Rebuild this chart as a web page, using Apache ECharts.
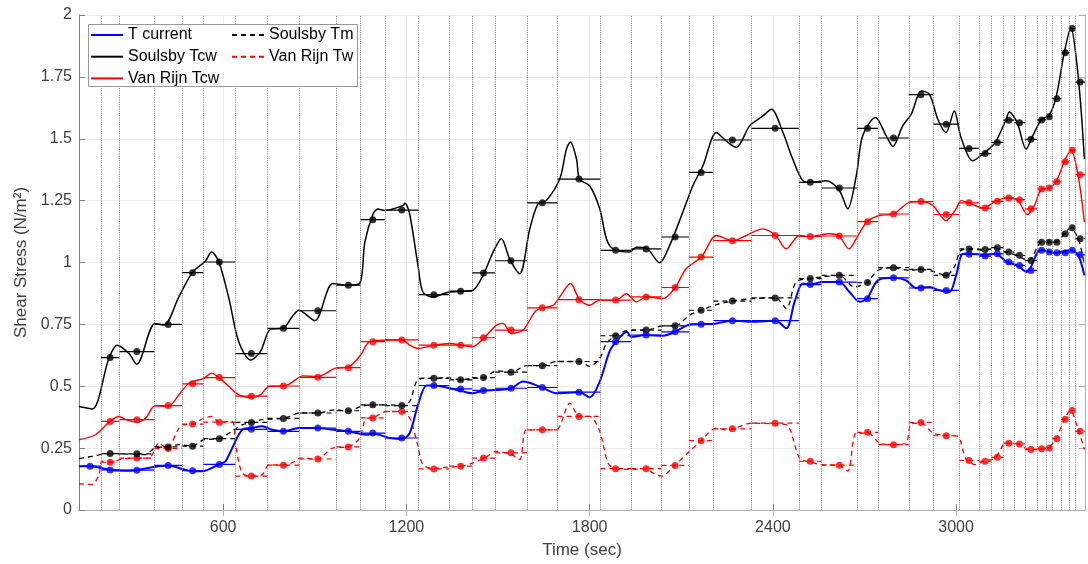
<!DOCTYPE html>
<html lang="en">
<head>
	<meta charset="UTF-8">
	<title>Shear Stress</title>
	<style>
	body, div {
		margin: 0;
		padding: 0;
	}
	#echart {
		width: 1088px;
		height: 564px;
	}
	</style>
</head>
<body>
	<div id="echart"></div>

	<script src="https://cdn.jsdelivr.net/npm/echarts@6/dist/echarts.min.js"></script>

	<script>
// burst interval edges (sec)
var boundaries = [128,200,260,375,465,535,640,745,850,970,1050,1130,1240,1340,1415,1490,1595,1695,1835,1935,2035,2125,2205,2330,2485,2560,2675,2745,2845,2925,3010,3075,3115,3155,3190,3225,3265,3295,3315,3345,3370,3390,3422];
var xTicks = [600, 1200, 1800, 2400, 3000];

// mean value for each interval
var currentStep = [0.177,0.162,0.161,0.180,0.159,0.184,0.326,0.318,0.331,0.318,0.311,0.291,0.503,0.489,0.483,0.492,0.495,0.476,0.680,0.707,0.720,0.751,0.765,0.765,0.911,0.921,0.854,0.938,0.897,0.887,1.033,1.026,1.035,1.002,0.988,0.968,1.049,1.042,1.039,1.039,1.049,1.031];
var soulsbyTcwStep = [null,0.616,0.640,0.750,0.959,1.002,0.632,0.734,0.805,0.908,1.173,1.212,0.870,0.884,0.958,1.007,1.241,1.337,1.049,1.055,1.103,1.364,1.495,1.542,1.324,1.301,1.542,1.503,1.678,1.559,1.461,1.440,1.485,1.575,1.565,1.498,1.576,1.589,1.662,1.847,1.945,1.729];
var vanRijnTcwStep = [null,0.358,0.365,0.422,0.510,0.535,0.460,0.501,0.536,0.575,0.680,0.687,0.666,0.666,0.696,0.727,0.817,0.850,0.848,0.861,0.899,1.022,1.088,1.109,1.105,1.107,1.165,1.196,1.246,1.194,1.241,1.220,1.247,1.261,1.254,1.217,1.297,1.301,1.326,1.407,1.454,1.355];
var soulsbyTmStep = [null,0.228,0.227,0.255,0.258,0.288,0.354,0.370,0.392,0.401,0.425,0.422,0.532,0.526,0.535,0.557,0.583,0.600,0.704,0.727,0.744,0.807,0.844,0.857,0.935,0.948,0.919,0.979,0.972,0.948,1.055,1.053,1.060,1.042,1.029,1.008,1.082,1.082,1.082,1.116,1.140,1.096];
var vanRijnTwStep = [null,0.193,0.210,0.248,0.347,0.355,0.137,0.181,0.206,0.255,0.372,0.398,0.166,0.177,0.210,0.231,0.324,0.378,0.167,0.167,0.180,0.280,0.328,0.351,0.197,0.181,0.314,0.264,0.354,0.300,0.200,0.197,0.213,0.270,0.267,0.244,0.247,0.251,0.288,0.367,0.402,0.318];

// time series [sec, N/m2]
var currentCurve = [[128,0.177],[166,0.177],[229,0.162],[270,0.159],[317,0.161],[368,0.173],[419,0.18],[455,0.17],[499,0.157],[531,0.157],[586,0.184],[608,0.197],[662,0.324],[692,0.331],[728,0.338],[760,0.324],[796,0.318],[848,0.331],[908,0.331],[960,0.324],[1009,0.318],[1069,0.304],[1091,0.308],[1146,0.291],[1186,0.287],[1211,0.311],[1238,0.425],[1266,0.503],[1290,0.503],[1331,0.495],[1380,0.481],[1416,0.472],[1455,0.483],[1495,0.485],[1544,0.492],[1582,0.519],[1644,0.495],[1691,0.472],[1767,0.476],[1800,0.455],[1833,0.519],[1865,0.64],[1887,0.68],[1922,0.72],[1936,0.70],[1986,0.707],[2040,0.704],[2080,0.72],[2122,0.747],[2166,0.751],[2215,0.754],[2269,0.765],[2334,0.761],[2409,0.765],[2444,0.734],[2471,0.841],[2498,0.915],[2522,0.911],[2563,0.921],[2617,0.921],[2651,0.881],[2684,0.841],[2708,0.854],[2744,0.928],[2795,0.938],[2836,0.928],[2869,0.897],[2913,0.901],[2945,0.888],[2978,0.881],[3000,0.948],[3022,1.035],[3044,1.035],[3090,1.031],[3128,1.035],[3166,1.002],[3200,0.988],[3231,0.962],[3267,1.042],[3280,1.049],[3327,1.039],[3376,1.049],[3399,1.031],[3420,0.948]];
var soulsbyTcwCurve = [[128,0.418],[171,0.408],[226,0.613],[253,0.666],[291,0.633],[317,0.589],[377,0.754],[406,0.747],[455,0.861],[499,0.959],[542,1.006],[562,1.042],[586,1.002],[619,0.854],[651,0.68],[690,0.606],[722,0.64],[755,0.73],[796,0.734],[826,0.781],[848,0.807],[900,0.765],[959,0.915],[1008,0.908],[1047,0.915],[1064,1.082],[1091,1.196],[1107,1.216],[1129,1.21],[1189,1.23],[1195,1.239],[1210,1.2],[1238,0.988],[1254,0.881],[1287,0.861],[1331,0.878],[1385,0.884],[1418,0.888],[1451,0.948],[1484,1.042],[1511,1.096],[1538,1.015],[1571,0.955],[1604,1.136],[1631,1.237],[1658,1.25],[1702,1.337],[1724,1.458],[1737,1.487],[1757,1.418],[1767,1.337],[1800,1.31],[1833,1.217],[1855,1.096],[1876,1.056],[1931,1.042],[1953,1.062],[1986,1.058],[2029,0.999],[2062,1.069],[2105,1.203],[2138,1.31],[2171,1.391],[2215,1.525],[2247,1.491],[2280,1.465],[2324,1.552],[2367,1.592],[2395,1.619],[2433,1.525],[2465,1.418],[2498,1.33],[2522,1.324],[2575,1.33],[2618,1.29],[2645,1.217],[2673,1.35],[2694,1.512],[2736,1.586],[2771,1.512],[2793,1.469],[2825,1.552],[2853,1.599],[2886,1.693],[2913,1.679],[2940,1.579],[2967,1.525],[2994,1.612],[3016,1.505],[3054,1.411],[3087,1.438],[3128,1.485],[3164,1.579],[3174,1.608],[3200,1.565],[3229,1.458],[3251,1.512],[3280,1.579],[3303,1.592],[3327,1.666],[3354,1.847],[3376,1.948],[3395,1.807],[3409,1.619],[3420,1.418]];
var vanRijnTcwCurve = [[128,0.284],[182,0.304],[229,0.358],[259,0.378],[281,0.365],[317,0.355],[346,0.371],[377,0.421],[419,0.418],[455,0.465],[488,0.512],[537,0.532],[562,0.553],[586,0.535],[619,0.499],[651,0.465],[692,0.455],[722,0.465],[750,0.499],[796,0.501],[818,0.51],[862,0.542],[909,0.539],[968,0.573],[1009,0.577],[1050,0.626],[1080,0.68],[1146,0.687],[1186,0.687],[1211,0.666],[1238,0.653],[1290,0.666],[1342,0.673],[1380,0.666],[1416,0.66],[1455,0.696],[1495,0.747],[1516,0.754],[1544,0.713],[1582,0.727],[1626,0.807],[1680,0.827],[1702,0.861],[1737,0.915],[1767,0.85],[1800,0.827],[1833,0.848],[1887,0.848],[1920,0.874],[1953,0.841],[1986,0.861],[2040,0.854],[2080,0.899],[2116,0.975],[2166,1.022],[2215,1.109],[2269,1.088],[2313,1.109],[2367,1.136],[2409,1.109],[2444,1.055],[2487,1.109],[2522,1.105],[2585,1.116],[2617,1.107],[2649,1.055],[2673,1.096],[2708,1.165],[2749,1.19],[2795,1.196],[2847,1.243],[2886,1.246],[2924,1.23],[2967,1.169],[3000,1.217],[3016,1.25],[3040,1.241],[3090,1.22],[3128,1.247],[3166,1.261],[3200,1.254],[3234,1.194],[3256,1.23],[3280,1.297],[3303,1.301],[3327,1.326],[3354,1.407],[3376,1.454],[3399,1.355],[3420,1.163]];
var soulsbyTmCurve = [[128,0.208],[171,0.217],[229,0.228],[270,0.227],[346,0.224],[377,0.251],[419,0.255],[455,0.264],[499,0.258],[537,0.284],[586,0.288],[629,0.318],[662,0.344],[692,0.354],[728,0.365],[796,0.370],[818,0.378],[848,0.392],[909,0.392],[968,0.405],[1009,0.398],[1050,0.418],[1089,0.425],[1135,0.425],[1186,0.422],[1211,0.439],[1233,0.519],[1254,0.532],[1290,0.532],[1331,0.535],[1380,0.526],[1416,0.532],[1455,0.535],[1495,0.562],[1544,0.557],[1593,0.583],[1644,0.583],[1691,0.6],[1767,0.6],[1800,0.58],[1833,0.613],[1855,0.673],[1885,0.704],[1931,0.727],[1986,0.727],[2040,0.744],[2080,0.744],[2127,0.787],[2166,0.807],[2215,0.83],[2269,0.844],[2334,0.854],[2409,0.857],[2444,0.814],[2476,0.921],[2522,0.935],[2563,0.942],[2617,0.948],[2667,0.901],[2708,0.919],[2744,0.968],[2795,0.979],[2847,0.968],[2886,0.972],[2924,0.964],[2967,0.948],[2994,0.982],[3016,1.049],[3049,1.055],[3090,1.049],[3128,1.058],[3164,1.042],[3194,1.031],[3237,1.008],[3278,1.082],[3305,1.085],[3331,1.085],[3354,1.116],[3374,1.139],[3401,1.093],[3420,0.988]];
var vanRijnTwCurve = [[128,0.106],[171,0.103],[193,0.143],[204,0.197],[229,0.193],[270,0.206],[317,0.21],[357,0.21],[390,0.271],[415,0.248],[466,0.344],[499,0.347],[537,0.371],[564,0.378],[586,0.355],[629,0.358],[641,0.264],[662,0.15],[692,0.137],[728,0.143],[750,0.183],[796,0.181],[837,0.197],[853,0.21],[908,0.206],[960,0.251],[1009,0.255],[1047,0.291],[1069,0.371],[1088,0.372],[1135,0.398],[1184,0.398],[1211,0.371],[1238,0.258],[1254,0.183],[1290,0.167],[1331,0.173],[1382,0.177],[1418,0.19],[1456,0.21],[1495,0.237],[1544,0.224],[1571,0.204],[1593,0.324],[1642,0.324],[1691,0.324],[1735,0.432],[1767,0.378],[1800,0.378],[1833,0.318],[1860,0.19],[1885,0.167],[1931,0.164],[1982,0.167],[2007,0.15],[2035,0.137],[2078,0.18],[2127,0.237],[2163,0.278],[2215,0.331],[2247,0.324],[2269,0.328],[2334,0.351],[2400,0.348],[2444,0.345],[2487,0.21],[2520,0.194],[2563,0.183],[2618,0.18],[2645,0.157],[2673,0.311],[2711,0.311],[2749,0.271],[2793,0.264],[2836,0.271],[2853,0.348],[2886,0.351],[2924,0.311],[2967,0.302],[3005,0.298],[3033,0.204],[3065,0.183],[3090,0.197],[3128,0.21],[3164,0.271],[3200,0.268],[3240,0.244],[3278,0.248],[3303,0.254],[3327,0.287],[3354,0.365],[3374,0.402],[3401,0.318],[3420,0.244]];

var FONT = '"Liberation Sans", Arial, sans-serif';

function stepData(vals) {
	var out = [];
	for (var i = 0; i < vals.length; i++) {
		if (vals[i] == null) continue;
		out.push([boundaries[i], vals[i]]);
		out.push([boundaries[i + 1], vals[i]]);
		out.push([boundaries[i + 1], '-']);
	}
	return out;
}
function meanPoints(vals) {
	var out = [];
	for (var i = 0; i < vals.length; i++) {
		if (vals[i] == null) continue;
		out.push([(boundaries[i] + boundaries[i + 1]) / 2, vals[i]]);
	}
	return out;
}

var series = [];
function addModel(name, color, dash, width, curve, step) {
	series.push({
		name: name, type: 'line', data: curve, symbol: 'none', smooth: 0.3,
		lineStyle: { color: color, width: width, type: dash }, itemStyle: { color: color }, z: 3
	});
	series.push({
		name: name + ' avg', type: 'line', data: stepData(step), symbol: 'none',
		lineStyle: { color: color, width: 1.2, type: dash }, z: 3
	});
	series.push({
		name: name + ' pts', type: 'scatter', data: meanPoints(step), symbolSize: 7,
		itemStyle: { color: color }, z: 4
	});
}
addModel('Van Rijn Tw', '#ff0000', [5, 4], 1.3, vanRijnTwCurve, vanRijnTwStep);
addModel('Soulsby Tm', '#000000', [5, 4], 1.3, soulsbyTmCurve, soulsbyTmStep);
addModel('T current', '#0000ff', 'solid', 2, currentCurve, currentStep);
addModel('Van Rijn Tcw', '#ff0000', 'solid', 1.4, vanRijnTcwCurve, vanRijnTcwStep);
addModel('Soulsby Tcw', '#000000', 'solid', 1.5, soulsbyTcwCurve, soulsbyTcwStep);

// dotted lines at the interval edges
series.push({
	name: 'edges', type: 'line', data: [], silent: true, z: 1,
	markLine: {
		silent: true, symbol: ['none', 'none'], label: { show: false },
		lineStyle: { color: '#777', type: 'dotted', width: 0.9 },
		data: boundaries.slice(1, -1).map(function (b) { return { xAxis: b }; })
	}
});

var legendCommon = {
	orient: 'vertical', top: 27, padding: 0,
	itemWidth: 32, itemHeight: 4, itemGap: 5.7, z: 12,
	itemStyle: { opacity: 0 },
	textStyle: { fontSize: 16, color: '#000', fontFamily: FONT }
};

var myEchart = echarts.init(document.getElementById('echart'));

var option = {
	animation: false,
	textStyle: { fontFamily: FONT },
	grid: { left: 79, right: 3, top: 15, bottom: 52 },
	legend: [
		Object.assign({ data: ['T current', 'Soulsby Tcw', 'Van Rijn Tcw'], left: 90 }, legendCommon),
		Object.assign({ data: ['Soulsby Tm', 'Van Rijn Tw'], left: 231 }, legendCommon)
	],
	graphic: [{
		type: 'rect', z: 10, left: 88, top: 24,
		shape: { width: 269, height: 62 },
		style: { fill: '#fff', stroke: '#999', lineWidth: 1 }
	}],
	xAxis: [
		{
			type: 'value', min: 128, max: 3422,
			name: 'Time (sec)', nameLocation: 'middle', nameGap: 32,
			nameTextStyle: { fontSize: 17, color: '#404040' },
			axisLine: { lineStyle: { color: '#808080' } },
			axisTick: { inside: true, length: 6, customValues: xTicks, lineStyle: { color: '#808080' } },
			axisLabel: {
				customValues: xTicks, fontSize: 16, color: '#404040', margin: 10,
				formatter: function (v) { return String(v); }
			},
			splitLine: { show: true, lineStyle: { color: '#ebebeb' } }
		},
		{
			type: 'value', min: 128, max: 3422, position: 'top',
			axisLine: { show: true, lineStyle: { color: '#b0b0b0' } },
			axisTick: { inside: true, length: 6, customValues: xTicks, lineStyle: { color: '#b0b0b0' } },
			axisLabel: { show: false },
			splitLine: { show: false }
		}
	],
	yAxis: [
		{
			type: 'value', min: 0, max: 2, interval: 0.25,
			name: 'Shear Stress (N/m²)', nameLocation: 'middle', nameGap: 36,
			nameTextStyle: { fontSize: 17, color: '#404040' },
			axisLine: { show: true, lineStyle: { color: '#808080' } },
			axisTick: { show: true, inside: true, length: 6, lineStyle: { color: '#808080' } },
			axisLabel: { fontSize: 16, color: '#404040', margin: 7 },
			splitLine: { show: true, lineStyle: { color: '#ebebeb' } }
		},
		{
			type: 'value', min: 0, max: 2, interval: 0.25, position: 'right',
			axisLine: { show: true, lineStyle: { color: '#b0b0b0' } },
			axisTick: { show: true, inside: true, length: 6, lineStyle: { color: '#b0b0b0' } },
			axisLabel: { show: false },
			splitLine: { show: false }
		}
	],
	series: series
};

myEchart.setOption(option);
	</script>
</body>
</html>
